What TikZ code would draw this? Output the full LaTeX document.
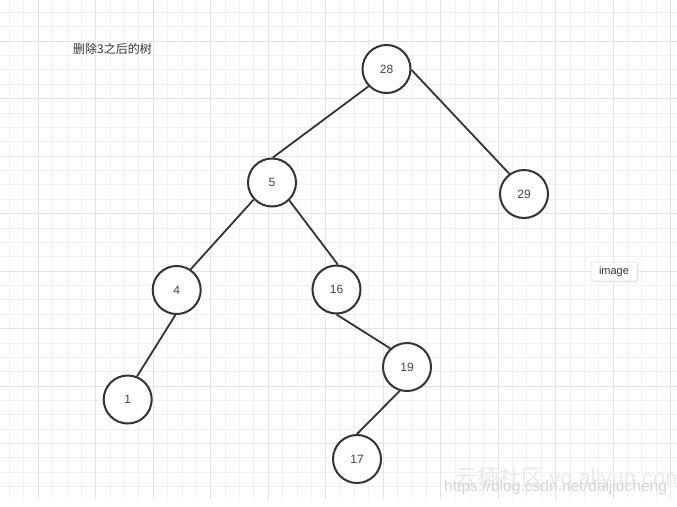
\documentclass[tikz,border=0pt]{standalone}
\usepackage{fontspec}
\setmainfont{Liberation Sans}
\newfontfamily\cjk{Noto Sans CJK SC}
\definecolor{gridminor}{HTML}{F1F1F1}
\definecolor{gridmajor}{HTML}{E3E3E3}
\definecolor{ink}{HTML}{333333}
\definecolor{txt}{HTML}{444444}
\definecolor{wm}{HTML}{EAEAEA}
\definecolor{wmurl}{HTML}{D4D4D4}
\begin{document}
\begin{tikzpicture}[x=1pt,y=-1pt,
  tn/.style={circle,draw=ink,line width=2pt,minimum size=48pt,inner sep=0pt,
    fill=white,text=txt,font=\fontsize{12}{14}\selectfont},
  edge/.style={draw=ink,line width=1.8pt},
  minorline/.style={draw=gridminor,line width=1pt},
  majorline/.style={draw=gridmajor,line width=1pt}]
\useasboundingbox (0,0) rectangle (677,506);
\fill[white] (0,0) rectangle (677,506);
% grid
\foreach \k in {0,...,46} {\draw[minorline] ({9.6+14.37*\k},0) -- ({9.6+14.37*\k},499);}
\foreach \k in {0,...,33} {\draw[minorline] (0,{12.5+14.37*\k}) -- (677,{12.5+14.37*\k});}
\foreach \k in {0,...,11} {\draw[majorline] ({38.34+57.48*\k},0) -- ({38.34+57.48*\k},499);}
\foreach \k in {0,...,7} {\draw[majorline] (0,{41.24+57.48*\k}) -- (677,{41.24+57.48*\k});}
% title
\node[text=ink,font=\cjk\fontsize{12}{14}\selectfont] (title) at (112.5,49) {删除3之后的树};
% tree nodes
\node[tn] (n28) at (386.5,69) {28};
\node[tn] (n5) at (272,182.5) {5};
\node[tn] (n29) at (524,194) {29};
\node[tn] (n4) at (176.7,290) {4};
\node[tn] (n16) at (336.5,289.5) {16};
\node[tn] (n19) at (407,367) {19};
\node[tn] (n1) at (127.7,399.5) {1};
\node[tn] (n17) at (357,459) {17};
% edges
\draw[edge] (n28.224) -- (n5.88);
\draw[edge] (n28.358) -- (n29.126);
\draw[edge] (n5.223) -- (n4.56);
\draw[edge] (n5.314) -- (n16.87);
\draw[edge] (n4.267) -- (n1.68);
\draw[edge] (n16.270) -- (n19.132);
\draw[edge] (n19.253) -- (n17.90);
% image label
\fill[black!7,rounded corners=1.5pt] (592,263.5) rectangle (638.5,282.5);
\node[draw=black!13,fill=white,line width=0.6pt,rounded corners=1pt,minimum width=46pt,minimum height=19pt,
  inner sep=0pt,text=ink,font=\fontsize{11}{13}\selectfont] (img) at (614,271.5) {image};
% watermark
\node[anchor=base west,inner sep=0pt,text=wm,font=\fontsize{22}{24}\selectfont] (wm1) at (455,485)
  {{\cjk 云栖社区} yq.aliyun.com};
\node[anchor=base west,inner sep=0pt,text=wmurl,font=\fontsize{15.6}{17}\selectfont] (wm2) at (444,491.5)
  {https://blog.csdn.net/daijiucheng};
\end{tikzpicture}
\end{document}
